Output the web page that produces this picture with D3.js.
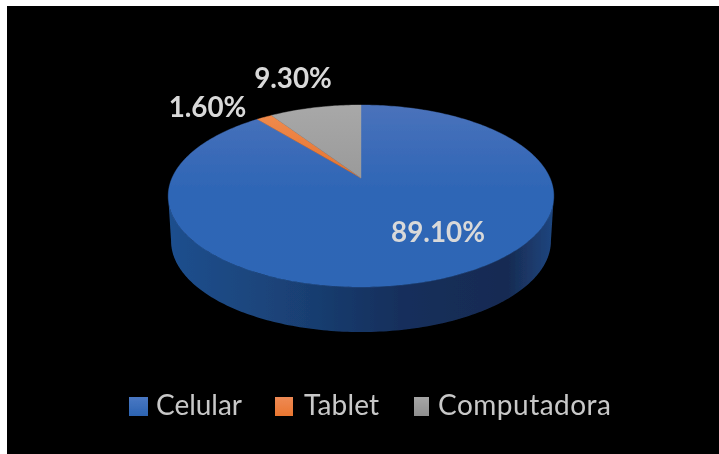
<!DOCTYPE html>
<html><head><meta charset="utf-8">
<script src="https://cdn.jsdelivr.net/npm/d3@7"></script>
<style>html,body{margin:0;padding:0;background:#fff;overflow:hidden}svg{display:block}text{font-family:Lato,"Open Sans",sans-serif}</style>
</head><body><svg id="c" width="719" height="454"></svg>
<script>
const categories=["Celular","Tablet","Computadora"];
const shares=[89.1,1.6,9.3];
const labels=["89.10%","1.60%","9.30%"];

const svg=d3.select("#c");
const defs=svg.append("defs");
function grad(id,stops,x2,y2){const g=defs.append("linearGradient").attr("id",id).attr("x1",0).attr("y1",0).attr("x2",x2).attr("y2",y2);
 stops.forEach(s=>g.append("stop").attr("offset",s[0]).attr("stop-color",s[1]));}
grad("top0",[[0,"#4a72bb"],[0.45,"#2f66b6"],[1,"#2d66b5"]],0,1);
grad("top1",[[0,"#f08a4c"],[1,"#e5732f"]],0,1);
grad("top2",[[0,"#a8a8a8"],[1,"#9a9a9a"]],0,1);
grad("side",[[0,"#1f4f8e"],[0.3,"#1a4277"],[0.6,"#162f5c"],[0.88,"#172b52"],[1,"#1f4680"]],1,0);
grad("lg0",[[0,"#4a78c4"],[1,"#2c64b2"]],0,1);
grad("lg1",[[0,"#ee8a55"],[1,"#ea7630"]],0,1);
grad("lg2",[[0,"#a6a6a6"],[1,"#8f8f8f"]],0,1);
defs.append("filter").attr("id","soft").append("feGaussianBlur").attr("stdDeviation",0.7);
defs.append("filter").attr("id","softText").append("feGaussianBlur").attr("stdDeviation",0.4);

svg.append("rect").attr("x",7).attr("y",6).attr("width",712).attr("height",448).attr("fill","#000");

// perspective projection of the unit disc onto the tilted pie
const cx=361,R=189,apexY=178,A=52.2,C=-0.198;
const proj=a=>{const u=Math.sin(a),v=-Math.cos(a),d=1+C*v;return [cx+R*u/d,(A*v+apexY)/d];};

const arcs=d3.pie().sort(null).value(d=>d)(shares);
const pie=svg.append("g").attr("filter","url(#soft)");
const line=d3.line();

// side wall: runs between the widest points of the disc, through its front
const depth=45,shrink=0.985;
const widest=Math.acos(C);
const step=Math.PI/180;
const front=d3.range(widest,2*Math.PI-widest,step).concat([2*Math.PI-widest]);
const lower=a=>{const p=proj(a);return [cx+(p[0]-cx)*shrink,p[1]+depth];};
const wall=front.map(proj).concat(front.slice().reverse().map(lower));
pie.append("path").attr("d",line(wall)+"Z").attr("fill","url(#side)");

// top face slices
arcs.forEach((s,i)=>{
  const pts=d3.range(s.startAngle,s.endAngle,step).concat([s.endAngle]).map(proj);
  pie.append("path").attr("d",line([[cx,apexY],...pts])+"Z")
    .attr("fill",`url(#top${i})`).attr("stroke",`url(#top${i})`).attr("stroke-width",0.4);
});

// value labels
const labelPos=[[438,242],[207.5,117],[293,88]];
svg.append("g").attr("filter","url(#softText)").selectAll("text").data(labels).join("text")
  .attr("x",(d,i)=>labelPos[i][0]).attr("y",(d,i)=>labelPos[i][1])
  .attr("text-anchor","middle").attr("font-size",27.8).attr("font-weight",700)
  .attr("fill","#d9d9d9").text(d=>d);

// legend
const swatch=[[129,19],[275,18],[414,15]];
const legendText=[[156,86],[304,75],[438,173]];
const lg=svg.append("g").attr("filter","url(#softText)");
categories.forEach((c,i)=>{
  lg.append("rect").attr("x",swatch[i][0]).attr("y",397).attr("width",swatch[i][1]).attr("height",19).attr("fill",`url(#lg${i})`);
  lg.append("text").attr("x",legendText[i][0]).attr("y",415).attr("font-size",28).attr("font-weight",400)
    .attr("textLength",legendText[i][1]).attr("lengthAdjust","spacing").attr("fill","#c8c8c8").text(c);
});
</script></body></html>
